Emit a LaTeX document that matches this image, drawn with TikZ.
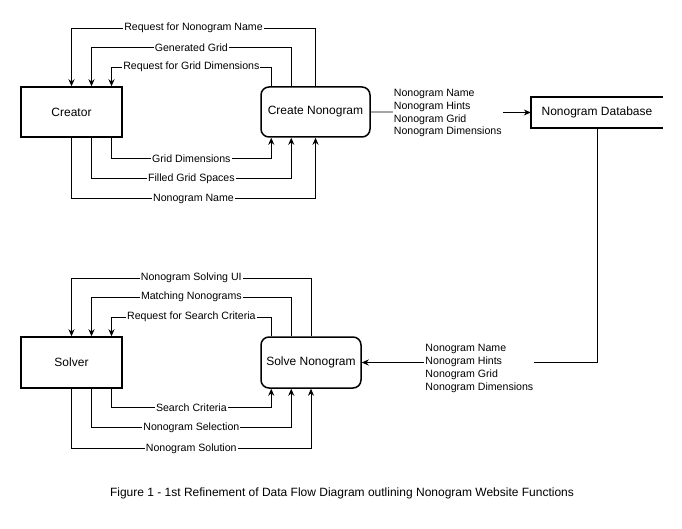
\documentclass[tikz,border=0pt]{standalone}
\usepackage{fontspec}
\setmainfont{Liberation Sans}
\usetikzlibrary{arrows.meta}
\begin{document}
\begin{tikzpicture}[x=1pt, y=-1pt, >={Stealth[length=7pt, width=6pt]},
    font=\fontsize{12}{14}\selectfont]
    \tikzset{
        entity/.style={draw, line width=1.5pt, minimum width=101pt, minimum height=50pt},
        process/.style={draw, line width=1.5pt, rounded corners=8pt, minimum height=50pt},
        flow/.style={->, line width=0.8pt},
        lab/.style={fill=white, inner sep=1pt, align=left,
            font=\fontsize{10.6}{12.7}\selectfont}
    }
    \useasboundingbox (0,0) rectangle (682,529);

    % creating a nonogram
    \node[entity] (creator) at (71.5,112) {Creator};
    \node[process, minimum width=109pt] (create) at (315.5,112) {Create Nonogram};
    \node[minimum width=132pt, minimum height=31pt] (db) at (597,112.5) {Nonogram Database};
    \draw[line width=1.5pt] (db.north east) -- (db.north west) -- (db.south west) -- (db.south east);

    \draw[flow] (create.north) -- (create.north |- 0,28) -| node[lab, pos=0.25]{Request for Nonogram Name} (creator.north);
    \draw[flow] ([xshift=31pt]create.west |- create.north) -- ++(0,-39) -| node[lab, pos=0.25]{Generated Grid} ([xshift=20pt]creator.north);
    \draw[flow] ([xshift=11pt]create.west |- create.north) -- ++(0,-19) -| node[lab, pos=0.25]{Request for Grid Dimensions} ([xshift=40pt]creator.north);
    \draw[flow] ([xshift=40pt]creator.south) -- ++(0,21) -| node[lab, pos=0.25]{Grid Dimensions} ([xshift=11pt]create.west |- create.south);
    \draw[flow] ([xshift=20pt]creator.south) -- ++(0,41) -| node[lab, pos=0.25]{Filled Grid Spaces} ([xshift=31pt]create.west |- create.south);
    \draw[flow] (creator.south) -- ++(0,61) -| node[lab, pos=0.25]{Nonogram Name} (create.south);

    \draw[flow] (create.east) -- node[lab, yshift=-1pt, xshift=-3pt]{Nonogram Name\\Nonogram Hints\\Nonogram Grid\\Nonogram Dimensions} (db.west);

    % solving a nonogram
    \node[entity, minimum height=51pt] (solver) at (71.5,362.5) {Solver};
    \node[process, minimum width=100pt, minimum height=51pt] (solve) at (311,362.5) {Solve Nonogram};

    \draw[flow] (solve.north) -- (solve.north |- 0,278) -| node[lab, pos=0.25]{Nonogram Solving UI} (solver.north);
    \draw[flow] ([xshift=31pt]solve.west |- solve.north) -- ++(0,-39) -| node[lab, pos=0.25]{Matching Nonograms} ([xshift=20pt]solver.north);
    \draw[flow] ([xshift=11pt]solve.west |- solve.north) -- ++(0,-19) -| node[lab, pos=0.25]{Request for Search Criteria} ([xshift=40pt]solver.north);
    \draw[flow] ([xshift=40pt]solver.south) -- ++(0,19) -| node[lab, pos=0.25]{Search Criteria} ([xshift=11pt]solve.west |- solve.south);
    \draw[flow] ([xshift=20pt]solver.south) -- ++(0,39) -| node[lab, pos=0.25]{Nonogram Selection} ([xshift=31pt]solve.west |- solve.south);
    \draw[flow] (solver.south) -- ++(0,60) -| node[lab, pos=0.25]{Nonogram Solution} (solve.south);

    \draw[flow] (db.south) |- node[lab, pos=0.75, yshift=-6pt]{Nonogram Name\\Nonogram Hints\\Nonogram Grid\\Nonogram Dimensions} (solve.east);

    \node (caption) at (342,493) {Figure 1 - 1st Refinement of Data Flow Diagram outlining Nonogram Website Functions};
\end{tikzpicture}
\end{document}
